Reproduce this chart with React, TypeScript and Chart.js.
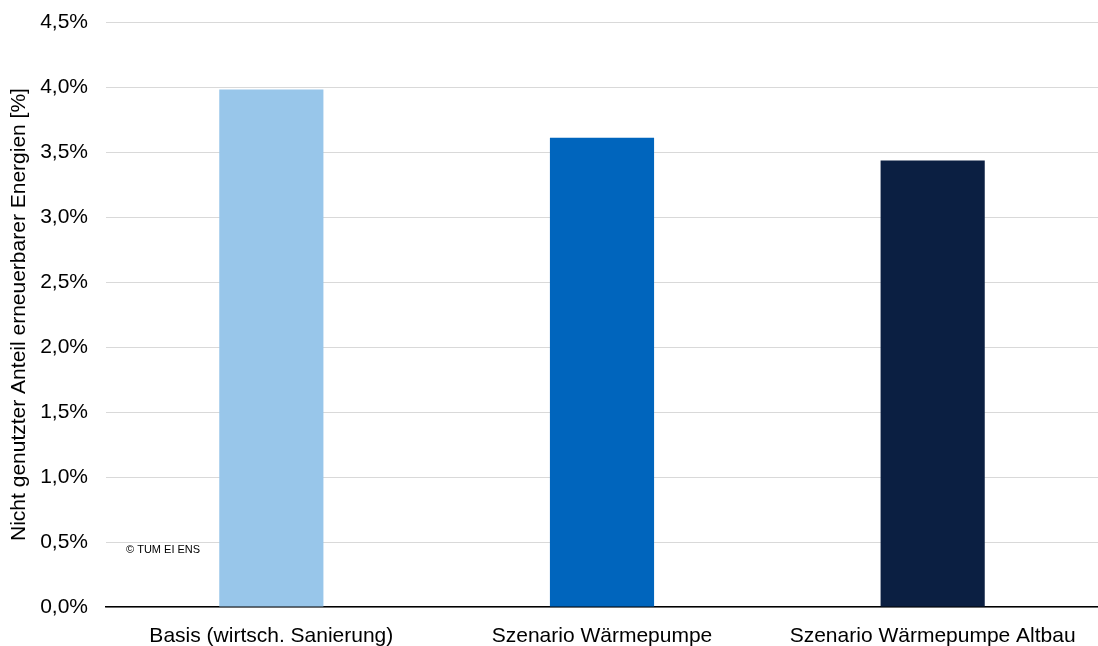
import React, { useEffect, useRef } from "react";
import { Chart, registerables } from "chart.js";

Chart.register(...registerables);

const categories = [
  "Basis (wirtsch. Sanierung)",
  "Szenario Wärmepumpe",
  "Szenario Wärmepumpe Altbau",
];
const values = [3.98, 3.61, 3.435];
const barColors = ["#98C6EA", "#0065BD", "#0B1F42"];
const yMin = 0;
const yMax = 4.5;
const yStep = 0.5;
const yAxisTitle = "Nicht genutzter Anteil erneuerbarer Energien [%]";
const watermark = "© TUM EI ENS";

const FONT = "'Liberation Sans', Arial, Helvetica, sans-serif";

const watermarkPlugin = {
  id: "watermark",
  afterDraw(chart: any) {
    const { ctx, chartArea, scales } = chart;
    const y = scales.y.getPixelForValue(0.5) + 8;
    ctx.save();
    ctx.font = `11px ${FONT}`;
    ctx.fillStyle = "#000";
    ctx.textAlign = "left";
    ctx.textBaseline = "middle";
    ctx.fillText(watermark, chartArea.left + 20, y);
    ctx.restore();
  },
};

export default function App() {
  const ref = useRef<HTMLCanvasElement | null>(null);

  useEffect(() => {
    if (!ref.current) return;
    const chart = new Chart(ref.current, {
      type: "bar",
      data: {
        labels: categories,
        datasets: [
          {
            data: values,
            backgroundColor: barColors,
            borderWidth: 0,
            categoryPercentage: 1,
            barPercentage: 0.315,
          },
        ],
      },
      options: {
        responsive: false,
        animation: false,
        devicePixelRatio: 1,
        layout: { padding: { top: 22, right: 0, left: 0, bottom: 0 } },
        plugins: {
          legend: { display: false },
          tooltip: { enabled: false },
        },
        scales: {
          x: {
            afterFit(scale: any) {
              scale.height = 39;
              scale.paddingLeft = 0;
              scale.paddingRight = 0;
            },
            grid: { display: true, drawOnChartArea: false, drawTicks: false },
            border: { display: true, color: "#000", width: 1.5 },
            ticks: {
              color: "#000",
              padding: 17,
              maxRotation: 0,
              autoSkip: false,
              font: { family: FONT, size: 21 },
            },
          },
          y: {
            min: yMin,
            max: yMax,
            afterFit(scale: any) {
              scale.width = 106;
              scale.paddingTop = 0;
              scale.paddingBottom = 0;
            },
            grid: { color: "#D9D9D9", lineWidth: 1, drawTicks: false },
            border: { display: false },
            ticks: {
              stepSize: yStep,
              color: "#000",
              padding: 18,
              font: { family: FONT, size: 21 },
              callback: (v: any) => Number(v).toFixed(1).replace(".", ",") + "%",
            },
            title: {
              display: true,
              text: yAxisTitle,
              color: "#000",
              padding: { top: 7, bottom: 0 },
              font: { family: FONT, size: 21 },
            },
          },
        },
      },
      plugins: [watermarkPlugin],
    });
    return () => chart.destroy();
  }, []);

  return (
    <div
      style={{
        position: "fixed",
        left: 0,
        top: 0,
        width: 1098,
        height: 646,
        background: "#fff",
      }}
    >
      <canvas ref={ref} width={1098} height={646} />
    </div>
  );
}
